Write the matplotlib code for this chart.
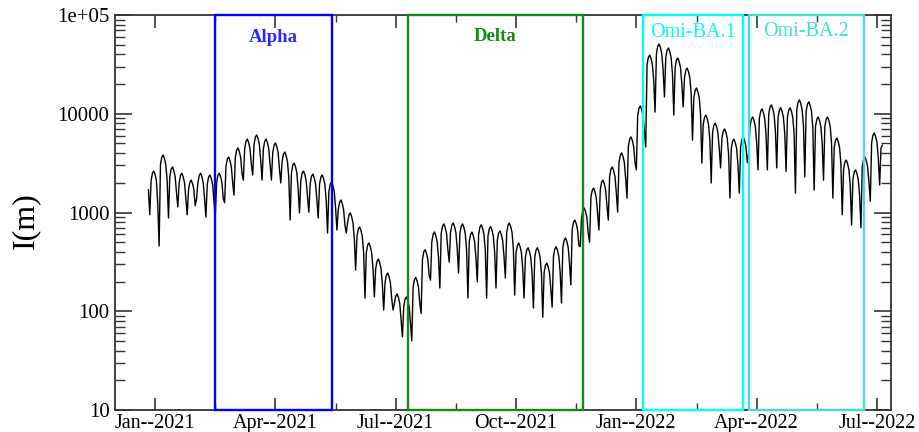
import numpy as np
import pandas as pd
import matplotlib
matplotlib.use("Agg")
import matplotlib.pyplot as plt
import matplotlib.transforms as mtransforms
from matplotlib.ticker import FixedLocator, FixedFormatter, LogLocator, NullFormatter

plt.rcParams['font.family'] = ['Liberation Serif', 'DejaVu Serif']

# ---------------- data (daily values) ----------------
start_date = "2020-12-27"
origin_date = "2021-01-01"

cases_winter = [1700,
    950, 2100, 2500, 2630, 2420, 2100, 1200,
    458, 3060, 3630, 3820, 3510, 3060, 2100,
    880, 2310, 2750, 2890, 2660, 2310, 1590,
    1140, 2000, 2380, 2500, 2300, 2000, 1380,
    950, 1700, 2020, 2130, 1960, 1700, 1170,
    1370, 2000, 2380, 2500, 2300, 2000, 1380,
    900, 1920, 2280, 2400, 2210, 1920, 1320,
    900, 2000, 2380, 2500, 2300, 2000, 1380,
    1260, 2920, 3470, 3650, 3360, 2920, 2010]

cases_alpha = [
    1500, 3600, 4280, 4500, 4140, 3600, 2480,
    2130, 4430, 5260, 5540, 5100, 4430, 3050,
    2400, 4880, 5800, 6100, 5610, 4880, 3360,
    2130, 4430, 5260, 5540, 5100, 4430, 3050,
    2130, 4050, 4810, 5060, 4660, 4050, 2780,
    1990, 3280, 3900, 4100, 3770, 3280, 2260,
    840, 2540, 3010, 3170, 2920, 2540, 1740,
    990, 2100, 2500, 2630, 2420, 2100, 1450,
    1010, 1960, 2330, 2450, 2250, 1960, 1350,
    880, 1920, 2280, 2400, 2210, 1920, 1320,
    620, 1630, 1940, 2040, 1880, 1630, 1120]

cases_summer = [
    665, 1070, 1270, 1340, 1230, 1070, 740,
    620, 790, 940, 990, 910, 790, 545,
    262, 570, 680, 713, 660, 570, 390,
    136, 390, 470, 491, 450, 390, 270,
    140, 270, 320, 338, 310, 270, 186,
    103, 195, 232, 244, 225, 195, 134,
    103, 120, 142, 150, 138, 120, 83,
    55, 112, 133, 140, 129, 112, 77,
    50, 176, 209, 220, 202, 176, 121,
    95, 336, 400, 420, 386, 336, 231]

cases_delta = [
    207, 507, 602, 634, 583, 507, 349,
    172, 613, 728, 766, 705, 613, 421,
    315, 627, 745, 784, 721, 627, 431,
    244, 613, 728, 766, 705, 613, 421,
    136, 507, 602, 634, 583, 507, 349,
    198, 600, 713, 750, 690, 600, 413,
    136, 576, 684, 720, 662, 576, 396,
    172, 520, 618, 650, 598, 520, 358,
    217, 627, 745, 784, 721, 627, 431,
    146, 393, 466, 491, 452, 393, 270,
    136, 352, 418, 440, 405, 352, 242,
    108, 352, 418, 440, 405, 352, 242,
    87, 246, 293, 308, 283, 246, 169,
    110, 360, 428, 450, 414, 360, 248,
    121, 442, 524, 552, 508, 442, 304,
    185, 672, 798, 840, 773, 672, 462,
    450, 888, 1050, 1110, 1020, 888, 610,
    500, 1420, 1680, 1770, 1630, 1420, 974,
    665, 1700, 2020, 2130, 1960, 1700, 1170,
    840, 2310, 2750, 2890, 2660, 2310, 1590,
    1010, 3210, 3810, 4010, 3690, 3210, 2210,
    1400, 4660, 5530, 5820, 5350, 4660, 3200]

cases_ba1 = [
    2700, 9600, 11400, 12000, 11000, 9600, 6600,
    4600, 31400, 37300, 39300, 36200, 31400, 21600,
    10400, 40600, 48300, 50800, 46700, 40600, 27900,
    14800, 37100, 44100, 46400, 42700, 37100, 25500,
    9700, 29400, 34900, 36700, 33800, 29400, 20200,
    11700, 23200, 27600, 29000, 26700, 23200, 16000,
    5400, 14600, 17300, 18200, 16700, 14600, 10000,
    3170, 7760, 9220, 9700, 8920, 7760, 5340,
    1990, 6440, 7650, 8050, 7410, 6440, 4430,
    2830, 5620, 6670, 7020, 6460, 5620, 3860,
    1400, 4430, 5260, 5540, 5100, 4430, 3050,
    1570, 4640, 5510, 5800, 5340, 4640, 3190]

cases_ba2 = [
    4000, 7420, 8810, 9270, 8530, 7420, 5100,
    2700, 8960, 10600, 11200, 10300, 8960, 6160,
    2700, 9840, 11700, 12300, 11300, 9840, 6770,
    2830, 9200, 10900, 11500, 10600, 9200, 6330,
    2600, 9200, 10900, 11500, 10600, 9200, 6330,
    1570, 11000, 13100, 13800, 12700, 11000, 7590,
    2290, 10600, 12500, 13200, 12100, 10600, 7260,
    1690, 7420, 8810, 9270, 8530, 7420, 5100,
    2130, 7420, 8810, 9270, 8530, 7420, 5100,
    1400, 4540, 5400, 5680, 5230, 4540, 3120,
    950, 2720, 3230, 3400, 3130, 2720, 1870,
    747, 2160, 2570, 2700, 2480, 2160, 1490,
    700, 2920, 3470, 3650, 3360, 2920, 2010,
    1300, 5100, 6060, 6380, 5870, 5100, 3510,
    1900, 4500, 4800]

variant_names = ["Alpha", "Delta", "Omi-BA.1", "Omi-BA.2"]
variant_starts = ["2021-02-15", "2021-07-09", "2022-01-01", "2022-03-21"]
variant_ends = ["2021-05-13", "2021-11-17", "2022-03-17", "2022-06-15"]
variant_colors = ["#0000ff", "#138a13", "#00ffff", "#40e0d0"]
variant_text_colors = ["#2a2aff", "#138a13", "#00ffff", "#40e0d0"]

xtick_days = [0, 90, 180, 270, 360, 450, 540]
xtick_labels = ["Jan--2021", "Apr--2021", "Jul--2021", "Oct--2021",
                "Jan--2022", "Apr--2022", "Jul--2022"]
ytick_values = [10, 100, 1000, 10000, 100000]
ytick_labels = ["10", "100", "1000", "10000", "1e+05"]

# ---------------- build ----------------
values = np.array(cases_winter + cases_alpha + cases_summer + cases_delta
                  + cases_ba1 + cases_ba2, dtype=float)
origin = pd.Timestamp(origin_date)
dates = pd.date_range(start_date, periods=len(values), freq="D")
days = np.asarray((dates - origin).days, dtype=float)

fig = plt.figure(figsize=(9.2, 4.32), dpi=100)
ax = fig.add_axes([0.125, 0.0509, 0.8435, 0.9144])

ax.plot(days, values, color="black", lw=1.0, zorder=2)

ax.set_yscale("log")
ax.set_ylim(10, 1e5)
ax.set_xlim(-30, 550.5)

trans = mtransforms.blended_transform_factory(ax.transData, ax.transAxes)
text_y = [0.943, 0.946, 0.955, 0.958]
for name, s, e, c, tc, ty in zip(variant_names, variant_starts, variant_ends,
                                 variant_colors, variant_text_colors, text_y):
    d0 = (pd.Timestamp(s) - origin).days
    d1 = (pd.Timestamp(e) - origin).days
    ax.axvspan(d0, d1, ymin=0, ymax=1, fill=False, edgecolor=c, lw=1.7,
               zorder=3, clip_on=False)
    bold = name in ("Alpha", "Delta")
    ax.text((d0 + d1) / 2, ty, name, transform=trans, color=tc,
            ha="center", va="center", fontsize=13.5 if bold else 14.5,
            fontweight="bold" if bold else "normal", zorder=4)

ax.xaxis.set_major_locator(FixedLocator(xtick_days))
ax.xaxis.set_major_formatter(FixedFormatter(xtick_labels))
ax.xaxis.set_minor_locator(FixedLocator([d + 45 for d in xtick_days[:-1]]))
ax.yaxis.set_major_locator(FixedLocator(ytick_values))
ax.yaxis.set_major_formatter(FixedFormatter(ytick_labels))
ax.yaxis.set_minor_locator(LogLocator(base=10, subs=np.arange(2, 10)))
ax.yaxis.set_minor_formatter(NullFormatter())

ax.tick_params(axis="both", which="both", direction="in", top=True, right=True,
               color="#333333")
ax.tick_params(axis="x", which="major", length=9, width=1.2, labelsize=14.5, pad=3)
ax.tick_params(axis="x", which="minor", length=5, width=1.0)
ax.tick_params(axis="y", which="major", length=12, width=1.2, labelsize=15, pad=4)
ax.tick_params(axis="y", which="minor", length=7, width=1.0)

for sp in ax.spines.values():
    sp.set_linewidth(1.3)
    sp.set_color("#333333")

ax.set_ylabel("I(m)", fontsize=23)
ax.yaxis.set_label_coords(-0.097, 0.48)

fig.savefig("out.png", dpi=100)
